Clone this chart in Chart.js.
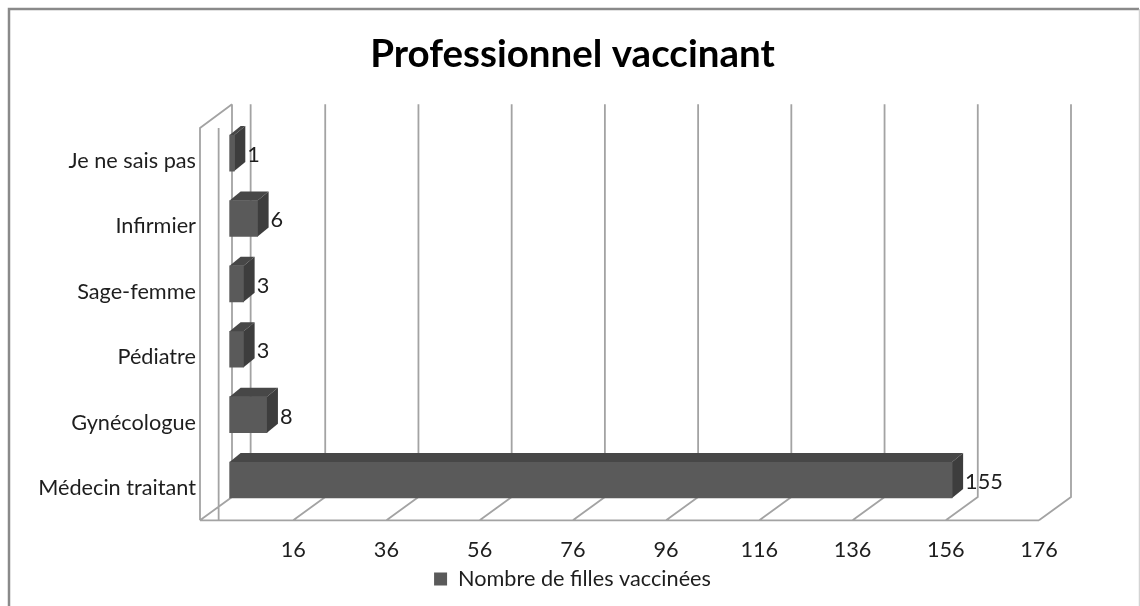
<!DOCTYPE html>
<html>
<head>
<meta charset="utf-8">
<style>
  html, body { margin: 0; padding: 0; background: #ffffff; }
  #wrap { width: 1140px; height: 606px; position: relative; }
  canvas { display: block; }
</style>
<script src="https://cdn.jsdelivr.net/npm/chart.js@4/dist/chart.umd.min.js"></script>
</head>
<body>
<div id="wrap"><canvas id="c" width="1140" height="606"></canvas></div>
<script>
// ---- data ----
const chartTitle = "Professionnel vaccinant";
const categories = ["Je ne sais pas", "Infirmier", "Sage-femme", "Pédiatre", "Gynécologue", "Médecin traitant"];
const seriesName = "Nombre de filles vaccinées";
const seriesValues = [1, 6, 3, 3, 8, 155];
const axisMin = -4;
const axisMax = 176;
const axisStep = 20;
const tickLabels = [16, 36, 56, 76, 96, 116, 136, 156, 176];

// ---- style ----
const FONT = "Lato, 'Open Sans', sans-serif";
const TEXT_SIZE = 21.7;
const FRONT_COLOR = '#5a5a5a';
const TOP_COLOR = '#474747';
const SIDE_COLOR = '#3d3d3d';
const FRAME_COLOR = '#a3a3a3';
// depth geometry (pixels) relative to the bar plane
const FRONT_DX = -11, FRONT_DY = 7.6;   // front edge of floor / walls
const BACK_DX = 21, BACK_DY = -15.6;    // back wall
const BAR_DX = 11, BAR_DY = -9;         // bar depth

const frame3d = {
  id: 'frame3d',
  beforeDatasetsDraw(chart) {
    const ctx = chart.ctx;
    const xs = chart.scales.x, ys = chart.scales.y;
    const topB = ys.top + BACK_DY - 0.5, botB = ys.bottom + BACK_DY;
    const topF = ys.top + FRONT_DY, botF = ys.bottom + FRONT_DY;
    ctx.save();
    // outer border
    ctx.strokeStyle = '#8a8a8a';
    ctx.lineWidth = 2.5;
    ctx.beginPath();
    ctx.moveTo(9, 610); ctx.lineTo(9, 9); ctx.lineTo(1139, 9);
    ctx.stroke();
    ctx.strokeStyle = '#d4d4d4';
    ctx.lineWidth = 1.5;
    ctx.beginPath(); ctx.moveTo(1139.5, 9); ctx.lineTo(1139.5, 610); ctx.stroke();

    ctx.strokeStyle = FRAME_COLOR;
    ctx.lineWidth = 1.8;
    const ticks = [];
    for (let v = axisMin; v <= axisMax + 1e-9; v += axisStep) ticks.push(v);
    ctx.beginPath();
    ticks.forEach(v => {
      const p = xs.getPixelForValue(v);
      // back wall gridline
      ctx.moveTo(p + BACK_DX, topB); ctx.lineTo(p + BACK_DX, botB);
      // floor diagonal
      ctx.lineTo(p + FRONT_DX, botF);
    });
    // floor front edge
    ctx.moveTo(xs.getPixelForValue(axisMin) + FRONT_DX, botF);
    ctx.lineTo(xs.getPixelForValue(axisMax) + FRONT_DX, botF);
    // left wall
    const pl = xs.getPixelForValue(axisMin);
    ctx.moveTo(pl + FRONT_DX, botF); ctx.lineTo(pl + FRONT_DX, topF); ctx.lineTo(pl + BACK_DX, topB);
    // zero plane lines
    const p0 = xs.getPixelForValue(0);
    ctx.moveTo(p0 + FRONT_DX, botF); ctx.lineTo(p0 + FRONT_DX, topF);
    ctx.moveTo(p0 + BACK_DX, botB); ctx.lineTo(p0 + BACK_DX, topB);
    ctx.stroke();
    ctx.restore();
  },
  afterDatasetsDraw(chart) {
    const ctx = chart.ctx;
    const meta = chart.getDatasetMeta(0);
    ctx.save();
    meta.data.forEach((bar, i) => {
      const p = bar.getProps(['x', 'y', 'base', 'height'], true);
      const t = p.y - p.height / 2, b = p.y + p.height / 2;
      const x0 = p.base, x1 = p.x;
      // top face
      ctx.fillStyle = TOP_COLOR;
      ctx.beginPath();
      ctx.moveTo(x0, t); ctx.lineTo(x1, t); ctx.lineTo(x1 + BAR_DX, t + BAR_DY); ctx.lineTo(x0 + BAR_DX, t + BAR_DY);
      ctx.closePath(); ctx.fill();
      // right face
      ctx.fillStyle = SIDE_COLOR;
      ctx.beginPath();
      ctx.moveTo(x1, t); ctx.lineTo(x1, b); ctx.lineTo(x1 + BAR_DX, b + BAR_DY); ctx.lineTo(x1 + BAR_DX, t + BAR_DY);
      ctx.closePath(); ctx.fill();
      // value label
      ctx.fillStyle = '#1e1e1e';
      ctx.font = TEXT_SIZE + "px " + FONT;
      ctx.textAlign = 'left';
      ctx.textBaseline = 'middle';
      ctx.fillText(String(seriesValues[i]), x1 + BAR_DX + 2, p.y + 2);
    });
    ctx.restore();
  }
};

new Chart(document.getElementById('c'), {
  type: 'bar',
  data: {
    labels: categories,
    datasets: [{
      label: seriesName,
      data: seriesValues,
      backgroundColor: FRONT_COLOR,
      borderWidth: 0,
      barThickness: 36,
      yAxisID: 'y',
      xAxisID: 'x'
    }]
  },
  options: {
    indexAxis: 'y',
    responsive: false,
    animation: false,
    devicePixelRatio: 1,
    layout: { padding: { left: 5, right: 0, top: 0, bottom: 6.15 } },
    scales: {
      x: {
        type: 'linear',
        min: axisMin,
        max: axisMax,
        grid: { display: false },
        border: { display: false },
        afterBuildTicks(s) {
          s.ticks = [axisMin].concat(tickLabels).map(v => ({ value: v }));
        },
        ticks: {
          padding: 16.7,
          labelOffset: -11,
          color: '#1e1e1e',
          font: { family: FONT, size: TEXT_SIZE },
          maxRotation: 0,
          autoSkip: false,
          callback: (v) => tickLabels.includes(v) ? String(v) : ''
        },
        afterFit(s) { s.height = 55; }
      },
      y: {
        type: 'category',
        grid: { display: false },
        border: { display: false },
        ticks: {
          padding: 7,
          labelOffset: 8,
          color: '#1e1e1e',
          font: { family: FONT, size: TEXT_SIZE }
        },
        afterFit(s) { s.width = 206; }
      },
      yR: {
        type: 'linear',
        position: 'right',
        display: true,
        grid: { display: false },
        border: { display: false },
        ticks: { display: false },
        afterFit(s) { s.width = 90; }
      }
    },
    plugins: {
      title: {
        display: true,
        text: chartTitle,
        color: '#000000',
        font: { family: FONT, size: 38.5, weight: 'bold', lineHeight: 1.2 },
        padding: { top: 31.9, bottom: 42.3 }
      },
      legend: {
        display: true,
        position: 'bottom',
        labels: {
          boxWidth: 13,
          boxHeight: 13,
          padding: 0.45,
          color: '#1e1e1e',
          font: { family: FONT, size: TEXT_SIZE }
        }
      },
      tooltip: { enabled: false }
    }
  },
  plugins: [frame3d]
});
</script>
</body>
</html>
